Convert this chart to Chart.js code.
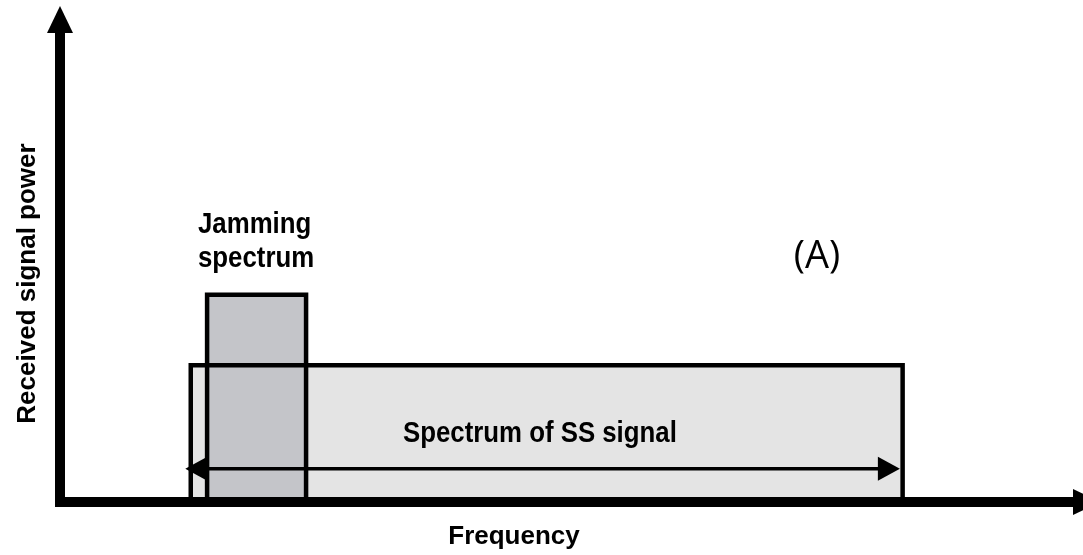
<!DOCTYPE html>
<html>
<head>
<meta charset="utf-8">
<script src="https://cdn.jsdelivr.net/npm/chart.js@4/dist/chart.umd.min.js"></script>
<style>
  html, body { margin: 0; padding: 0; background: #fff; }
  #wrap { width: 1083px; height: 555px; position: relative; }
</style>
</head>
<body>
<div id="wrap"><canvas id="spectrum-chart"></canvas></div>
<script>
// frequency band edges (arbitrary units) and power levels
const ssBand = [14.4, 92.8];
const ssLevel = 31.3;
const jamBand = [16.2, 27.1];
const jamLevel = 47.4;
const spanArrow = [13.8, 92.5];
const spanLevel = 7.6;

const xTitle = "Frequency";
const yTitle = "Received signal power";
const jamLabel = ["Jamming", "spectrum"];
const ssLabel = "Spectrum of SS signal";
const panelLabel = "(A)";

const sansBold = "'Liberation Sans', Arial, sans-serif";

function boxPoints(band, level) {
  return [
    { x: band[0], y: 0 },
    { x: band[0], y: level },
    { x: band[1], y: level },
    { x: band[1], y: 0 },
  ];
}

function drawHead(ctx, tipX, tipY, dir, len, half) {
  // dir: "left", "right", "up"
  ctx.beginPath();
  if (dir === "up") {
    ctx.moveTo(tipX, tipY);
    ctx.lineTo(tipX - half, tipY + len);
    ctx.lineTo(tipX + half, tipY + len);
  } else {
    const s = dir === "right" ? -1 : 1;
    ctx.moveTo(tipX, tipY);
    ctx.lineTo(tipX + s * len, tipY - half);
    ctx.lineTo(tipX + s * len, tipY + half);
  }
  ctx.closePath();
  ctx.fill();
}

// condensed-looking label: squeeze the text horizontally
function narrowText(ctx, text, x, y) {
  ctx.save();
  ctx.translate(x, y);
  ctx.scale(0.86, 1);
  ctx.fillText(text, 0, 0);
  ctx.restore();
}

const decorations = {
  id: "decorations",
  afterDatasetsDraw(chart) {
    const { ctx, chartArea, scales } = chart;
    const xs = scales.x;
    const ys = scales.y;
    ctx.save();
    ctx.fillStyle = "#000";
    ctx.strokeStyle = "#000";

    // texts
    ctx.textAlign = "left";
    ctx.textBaseline = "alphabetic";
    ctx.font = "bold 30px " + sansBold;
    narrowText(ctx, jamLabel[0], 198, 233);
    narrowText(ctx, jamLabel[1], 198, 267);
    narrowText(ctx, ssLabel, 403, 442);
    ctx.textAlign = "center";
    ctx.font = "38px 'Open Sans', sans-serif";
    ctx.fillText(panelLabel, 817, 268);

    // double arrow for SS spectrum width
    const ay = ys.getPixelForValue(spanLevel);
    const ax0 = xs.getPixelForValue(spanArrow[0]);
    const ax1 = xs.getPixelForValue(spanArrow[1]);
    ctx.lineWidth = 3.5;
    ctx.beginPath();
    ctx.moveTo(ax0 + 10, ay);
    ctx.lineTo(ax1 - 10, ay);
    ctx.stroke();
    drawHead(ctx, ax0, ay, "left", 22, 12);
    drawHead(ctx, ax1, ay, "right", 22, 12);

    // axes
    const ox = chartArea.left;
    const oy = chartArea.bottom;
    ctx.fillRect(ox - 5, 33, 10, oy + 5 - 33);
    drawHead(ctx, ox, 6, "up", 27, 13);
    ctx.fillRect(ox - 5, oy - 5, 1073 - (ox - 5), 10);
    drawHead(ctx, 1100, oy, "right", 27, 13);
    ctx.restore();
  },
};

const ctx = document.getElementById("spectrum-chart").getContext("2d");
const spectrumChart = new Chart(ctx, {
  type: "line",
  data: {
    datasets: [
      {
        label: "Jamming",
        data: boxPoints(jamBand, jamLevel),
        borderColor: "#000",
        borderWidth: 4.5,
        borderJoinStyle: "miter",
        backgroundColor: "#c4c5c9",
        fill: "origin",
        pointRadius: 0,
        tension: 0,
      },
      {
        label: "SS signal",
        data: boxPoints(ssBand, ssLevel),
        borderColor: "#000",
        borderWidth: 4.5,
        borderJoinStyle: "miter",
        backgroundColor: "#e4e4e4",
        fill: "origin",
        pointRadius: 0,
        tension: 0,
      },
    ],
  },
  options: {
    responsive: true,
    maintainAspectRatio: false,
    animation: false,
    layout: {
      padding: { top: 65, right: 115, left: 0, bottom: 0 },
    },
    scales: {
      x: {
        type: "linear",
        min: 0,
        max: 100,
        grid: { display: false, drawTicks: false },
        border: { display: false },
        ticks: { display: false },
        title: {
          display: true,
          text: xTitle,
          color: "#000",
          font: { family: sansBold, size: 26, weight: "bold", lineHeight: 1.2 },
          padding: { top: 19.4, bottom: 2.4 },
        },
      },
      y: {
        type: "linear",
        min: 0,
        max: 100,
        grid: { display: false, drawTicks: false },
        border: { display: false },
        ticks: { display: false },
        title: {
          display: true,
          text: yTitle,
          color: "#000",
          font: { family: sansBold, size: 26, weight: "bold", lineHeight: 1.2 },
          padding: { top: 12.4, bottom: 16.4 },
        },
      },
    },
    plugins: {
      legend: { display: false },
      tooltip: { enabled: false },
      filler: { drawTime: "beforeDatasetsDraw" },
    },
  },
  plugins: [decorations],
});
</script>
</body>
</html>
